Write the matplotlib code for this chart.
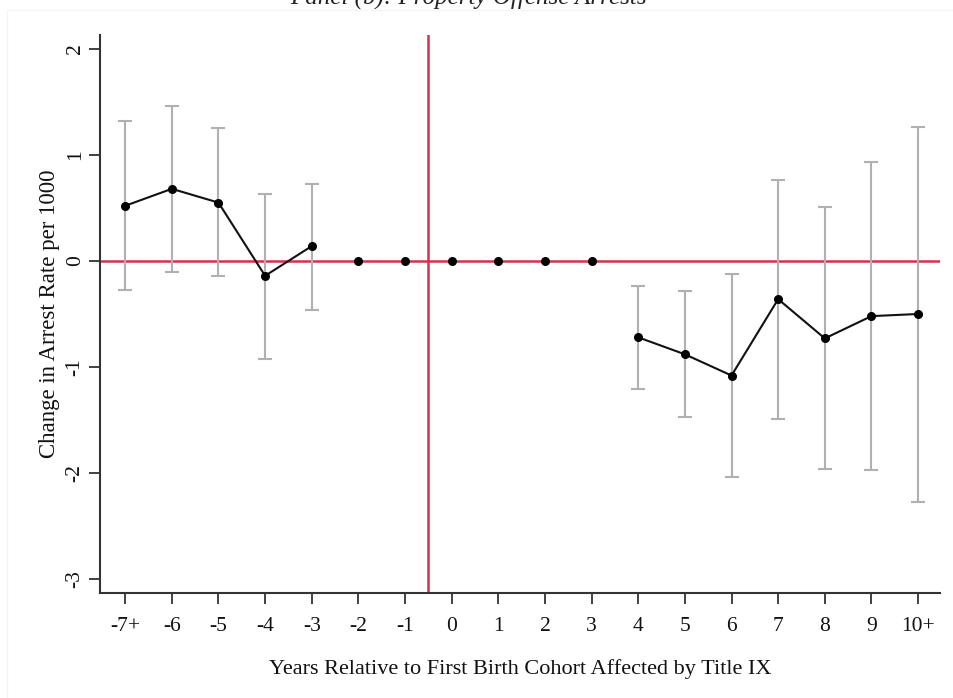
import matplotlib
matplotlib.use("Agg")
import matplotlib.pyplot as plt
from matplotlib.patches import Rectangle
import numpy as np

years = [-7, -6, -5, -4, -3, -2, -1, 0, 1, 2, 3, 4, 5, 6, 7, 8, 9, 10]
tick_labels = ["-7+", "-6", "-5", "-4", "-3", "-2", "-1", "0", "1", "2", "3",
               "4", "5", "6", "7", "8", "9", "10+"]

pre_years = [-7, -6, -5, -4, -3]
pre_est = [0.52, 0.68, 0.55, -0.14, 0.14]
pre_hi = [1.32, 1.46, 1.25, 0.63, 0.73]
pre_lo = [-0.27, -0.10, -0.14, -0.92, -0.46]

zero_years = [-2, -1, 0, 1, 2, 3]
zero_est = [0, 0, 0, 0, 0, 0]

post_years = [4, 5, 6, 7, 8, 9, 10]
post_est = [-0.72, -0.88, -1.08, -0.36, -0.73, -0.52, -0.50]
post_hi = [-0.24, -0.28, -0.12, 0.76, 0.51, 0.93, 1.26]
post_lo = [-1.21, -1.47, -2.04, -1.49, -1.96, -1.97, -2.27]

plt.rcParams['font.family'] = ['Liberation Serif', 'DejaVu Serif']

W, H = 954, 698
fig = plt.figure(figsize=(W / 100, H / 100), dpi=100)

# faint panel border
fig.patches.append(Rectangle((7 / W, -0.01), 1.02 - 7 / W, 1 - 10 / H + 0.01,
                             transform=fig.transFigure, fill=False,
                             edgecolor='#f3f5f5', lw=1.0, zorder=0))

ax = fig.add_axes([100 / W, 1 - 593 / H, 840 / W, 558 / H])

red = '#d3324d'
gray = '#b0b0b0'

ax.axhline(0, color=red, lw=1.8, zorder=1)
ax.axvline(-0.5, color=red, lw=1.8, zorder=1)

for xs, est, hi, lo in [(pre_years, pre_est, pre_hi, pre_lo),
                        (post_years, post_est, post_hi, post_lo)]:
    est = np.array(est); hi = np.array(hi); lo = np.array(lo)
    ax.errorbar(xs, est, yerr=[est - lo, hi - est], fmt='none', ecolor=gray,
                elinewidth=1.5, capsize=5, capthick=1.5, zorder=2)
    ax.plot(xs, est, color='#111111', lw=1.5, marker='o', markersize=5.5,
            markerfacecolor='black', markeredgecolor='black', zorder=3)

ax.plot(zero_years, zero_est, linestyle='none', marker='o', markersize=5.5,
        color='black', zorder=3)

ax.set_xlim(-7.54, 10.47)
ax.set_ylim(-3.13, 2.13)
ax.set_xticks(years)
ax.set_xticklabels(tick_labels)
ax.set_yticks([-3, -2, -1, 0, 1, 2])
ax.set_yticklabels(['-3', '-2', '-1', '0', '1', '2'], rotation=90, va='center')

for s in ['top', 'right']:
    ax.spines[s].set_visible(False)
for s in ['left', 'bottom']:
    ax.spines[s].set_linewidth(1.5)
    ax.spines[s].set_color('#333333')

ax.tick_params(axis='both', direction='out', length=8, width=1.3, color='#333333',
               labelsize=15.5, labelcolor='#111111')
ax.tick_params(axis='x', pad=9)
ax.tick_params(axis='y', pad=3)

ax.set_xlabel('Years Relative to First Birth Cohort Affected by Title IX',
              fontsize=16, labelpad=17, color='#111111')
ax.set_ylabel('Change in Arrest Rate per 1000', fontsize=16.5, labelpad=4,
              color='#111111')

fig.text(468 / W, 1 - 4 / H, 'Panel (b): Property Offense Arrests', ha='center',
         va='baseline', fontsize=18, style='italic', color='#222222')

fig.savefig('out.png', dpi=100)
